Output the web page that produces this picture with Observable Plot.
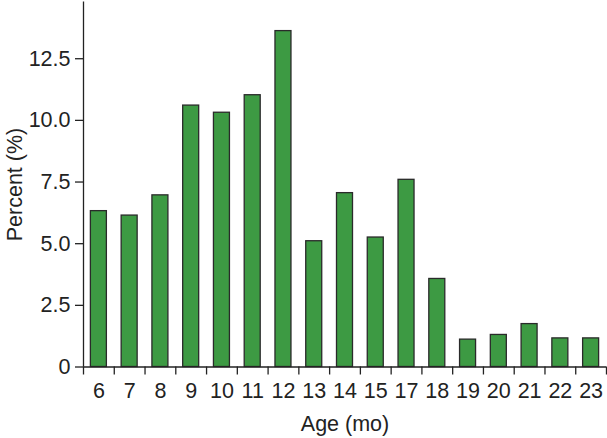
<!DOCTYPE html>
<html>
<head>
<meta charset="utf-8">
<script src="https://cdn.jsdelivr.net/npm/d3@7"></script>
<script src="https://cdn.jsdelivr.net/npm/@observablehq/plot@0.6"></script>
<style>
  html, body { margin: 0; padding: 0; background: #fff; }
  #chart svg { display: block; }
</style>
</head>
<body>
<div id="chart"></div>
<script>
const ages = ["6","7","8","9","10","11","12","13","14","15","17","18","19","20","21","22","23"];
const percents = [6.32, 6.14, 6.96, 10.6, 10.31, 11.02, 13.62, 5.10, 7.05, 5.25, 7.59, 3.57, 1.11, 1.30, 1.74, 1.16, 1.16];
const yTicks = [0, 2.5, 5, 7.5, 10, 12.5];
const xLabel = "Age (mo)";
const yLabel = "Percent (%)";

const data = ages.map((a, i) => ({age: a, pct: percents[i]}));

const width = 607, height = 438;
const marginLeft = 83, marginRight = 1, marginTop = 1.5, marginBottom = 71.5;
const step = (width - marginLeft - marginRight) / ages.length;
const font = "Liberation Sans, Arial, Helvetica, sans-serif";
const fs = 21.5;

const chart = Plot.plot({
  width, height, marginLeft, marginRight, marginTop, marginBottom,
  style: {fontFamily: font, fontSize: fs + "px", color: "#222", background: "#fff"},
  x: {domain: ages, paddingInner: 0.48, paddingOuter: 0.24, round: false, label: null},
  y: {domain: [0, 14.8], label: null},
  marks: [
    Plot.barY(data, {x: "age", y: "pct", fill: "#3d9a43", stroke: "#2a2a2a", strokeWidth: 1.3}),
    Plot.axisY({ticks: yTicks, tickSize: 8, tickPadding: 5, tickFormat: d => d === 0 ? "0" : d.toFixed(1), label: null, stroke: "#222", strokeWidth: 1.3, fill: "#222", fontSize: fs}),
    Plot.axisX({tickSize: 0, tickPadding: 16, label: null, fill: "#222", fontSize: fs}),
    Plot.axisX({text: null, tickSize: 8, dx: -step / 2, label: null, stroke: "#222", strokeWidth: 1.3}),
    Plot.axisX([ages[ages.length - 1]], {text: null, tickSize: 8, dx: step / 2, label: null, stroke: "#222", strokeWidth: 1.3}),
    Plot.ruleY([0], {stroke: "#222", strokeWidth: 1.3}),
    Plot.ruleX([ages[0]], {dx: -step / 2, y1: 0, y2: 14.8, stroke: "#222", strokeWidth: 1.3}),
    Plot.text([xLabel], {frameAnchor: "bottom", lineAnchor: "top", dy: 49, text: d => d, fontSize: fs, fill: "#222"}),
    Plot.text([yLabel], {frameAnchor: "left", textAnchor: "middle", rotate: -90, lineAnchor: "bottom", dx: 21 - marginLeft, text: d => d, fontSize: fs, fill: "#222"})
  ]
});
document.getElementById("chart").appendChild(chart);
</script>
</body>
</html>
